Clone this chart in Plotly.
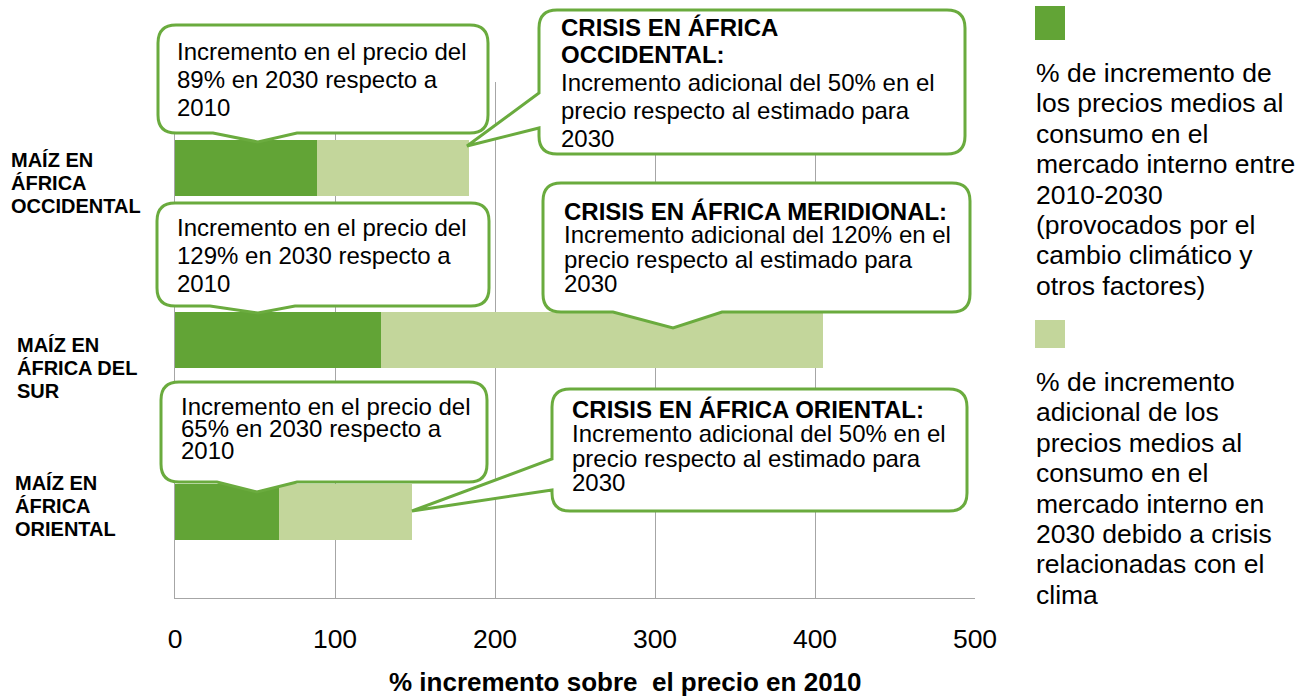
import plotly.graph_objects as go

# ---------------- data ----------------
categories = ["MAÍZ EN ÁFRICA OCCIDENTAL", "MAÍZ EN ÁFRICA DEL SUR", "MAÍZ EN ÁFRICA ORIENTAL"]
category_lines = [["MAÍZ EN", "ÁFRICA", "OCCIDENTAL"],
                  ["MAÍZ EN", "ÁFRICA DEL", "SUR"],
                  ["MAÍZ EN", "ÁFRICA", "ORIENTAL"]]
base_increase = [89, 129, 65]          # % increase 2010-2030
crisis_increase = [95, 276, 83]        # additional % due to climate crises
crisis_pct = [50, 120, 50]
crisis_regions = [["CRISIS EN ÁFRICA", "OCCIDENTAL:"], ["CRISIS EN ÁFRICA MERIDIONAL:"], ["CRISIS EN ÁFRICA ORIENTAL:"]]
x_ticks = [0, 100, 200, 300, 400, 500]
series_names = ["% de incremento de los precios medios al consumo en el mercado interno entre 2010-2030 (provocados por el cambio climático y otros factores)",
                "% de incremento adicional de los precios medios al consumo en el mercado interno en 2030 debido a crisis relacionadas con el clima"]
legend_lines_1 = ["% de incremento de", "los precios medios al", "consumo en el", "mercado interno entre",
                  "2010-2030", "(provocados por el", "cambio climático y", "otros factores)"]
legend_lines_2 = ["% de incremento", "adicional de los", "precios medios al", "consumo en el",
                  "mercado interno en", "2030 debido a crisis", "relacionadas con el", "clima"]
x_title = "% incremento sobre\u00a0 el precio en 2010"

# ---------------- style / geometry ----------------
W, H = 1297, 696
PL, PR, PT, PB = 175, 975, 82, 598
DARK = "#62A436"
LIGHT = "#C3D69B"
BORDER = "#6AAB3E"
GRID = "#A6A6A6"
FONT = "Liberation Sans, Arial, sans-serif"


def xp(px):
    return (px - PL) / (PR - PL)


def yp(py):
    return (PB - py) / (PB - PT)


fig = go.Figure()
fig.add_trace(go.Bar(orientation="h", y=categories, x=base_increase, name=series_names[0],
                     marker=dict(color=DARK, line=dict(width=0)), showlegend=False))
fig.add_trace(go.Bar(orientation="h", y=categories, x=crisis_increase, name=series_names[1],
                     marker=dict(color=LIGHT, line=dict(width=0)), showlegend=False))

shapes = []
annotations = []


def callout(box, tail, side):
    x0, y0, x1, y1 = box
    r = 18
    P = []
    P.append(("M", x0 + r, y0))
    P.append(("L", x1 - r, y0))
    P.append(("Q", x1, y0, x1, y0 + r))
    P.append(("L", x1, y1 - r))
    P.append(("Q", x1, y1, x1 - r, y1))
    if side == "bottom":
        a, tx, ty, b = tail
        P.append(("L", b, y1))
        P.append(("L", tx, ty))
        P.append(("L", a, y1))
    P.append(("L", x0 + r, y1))
    P.append(("Q", x0, y1, x0, y1 - r))
    if side == "left":
        a, tx, ty, b = tail
        P.append(("L", x0, b))
        P.append(("L", tx, ty))
        P.append(("L", x0, a))
    P.append(("L", x0, y0 + r))
    P.append(("Q", x0, y0, x0 + r, y0))
    parts = []
    for seg in P:
        cmd = seg[0]
        pts = seg[1:]
        coords = []
        for i in range(0, len(pts), 2):
            coords.append(f"{xp(pts[i]):.5f},{yp(pts[i + 1]):.5f}")
        parts.append(cmd + " " + " ".join(coords))
    path = " ".join(parts) + " Z"
    shapes.append(dict(type="path", path=path, xref="paper", yref="paper", layer="above",
                       fillcolor="white", line=dict(color=BORDER, width=3)))


def text_lines(lines, x, y0, sp, size, bold_n=0, color="black"):
    for i, t in enumerate(lines):
        txt = f"<b>{t}</b>" if i < bold_n else t
        annotations.append(dict(text=txt, x=xp(x), y=yp(y0 + i * sp), xref="paper", yref="paper",
                                xanchor="left", yanchor="middle", showarrow=False, align="left",
                                borderpad=0, font=dict(family=FONT, size=size, color=color)))


# callouts for base increase
base_boxes = [((158, 25, 488, 133), (213, 258, 142, 297), (176, 51.5, 27.8)),
              ((157, 203, 489, 306), (210, 258, 313, 295), (176, 228, 27.5)),
              ((161, 382, 487, 482), (217, 257, 492, 297), (180, 406, 22.5))]
for i, (box, tail, (tx, ty, sp)) in enumerate(base_boxes):
    callout(box, tail, "bottom")
    lines = ["Incremento en el precio del", f"{base_increase[i]}% en 2030 respecto a", "2010"]
    text_lines(lines, tx, ty, sp, 24)

# callouts for crises
crisis_boxes = [((539, 10, 965, 154), (93, 467, 146, 128), "left", (560, 27, 27.8)),
                ((543, 183, 970, 312), (613, 673, 328, 722), "bottom", (563, 211, 24)),
                ((552, 389, 967, 511), (459, 412, 511, 490), "left", (571, 409, 24.5))]
for i, (box, tail, side, (tx, ty, sp)) in enumerate(crisis_boxes):
    callout(box, tail, side)
    lines = crisis_regions[i] + [f"Incremento adicional del {crisis_pct[i]}% en el",
                                 "precio respecto al estimado para", "2030"]
    text_lines(lines, tx, ty, sp, 24, bold_n=len(crisis_regions[i]))

# category labels
for lines, (x, y0) in zip(category_lines, [(10, 160), (16, 345), (14, 483)]):
    text_lines(lines, x, y0, 23, 20, bold_n=3)

# custom legend
for (sx0, sy0, sx1, sy1), col in [((1035, 6, 1065, 40), DARK), ((1035, 320, 1065, 348), LIGHT)]:
    shapes.append(dict(type="rect", xref="paper", yref="paper", x0=xp(sx0), x1=xp(sx1),
                       y0=yp(sy1), y1=yp(sy0), fillcolor=col, line=dict(width=0)))
text_lines(legend_lines_1, 1035, 73, 30.4, 26.5)
text_lines(legend_lines_2, 1035, 382, 30.4, 26.5)

# axis title
annotations.append(dict(text=f"<b>{x_title}</b>", x=xp(625), y=yp(682), xref="paper", yref="paper",
                        xanchor="center", yanchor="middle", showarrow=False,
                        font=dict(family=FONT, size=26, color="black")))

fig.update_layout(
    width=W, height=H, barmode="stack", bargap=0.67,
    margin=dict(l=PL, r=W - PR, t=PT, b=H - PB, pad=0),
    paper_bgcolor="white", plot_bgcolor="white",
    xaxis=dict(range=[0, 500], tickvals=x_ticks, ticktext=[str(v) for v in x_ticks],
               showgrid=True, gridcolor=GRID, gridwidth=1, zeroline=False,
               showline=True, linecolor=GRID, linewidth=1, mirror=False,
               ticks="outside", ticklen=17, tickcolor="rgba(0,0,0,0)",
               tickfont=dict(family=FONT, size=26.5, color="black"), fixedrange=True),
    yaxis=dict(categoryorder="array", categoryarray=categories, autorange="reversed",
               showticklabels=False, showgrid=False, zeroline=False,
               showline=True, linecolor=GRID, linewidth=1, ticks="", fixedrange=True),
    shapes=shapes, annotations=annotations, showlegend=False,
)

fig.write_html("out.html", config={"displayModeBar": False},
               post_script="document.body.style.margin='0px';document.body.style.overflow='hidden';")
